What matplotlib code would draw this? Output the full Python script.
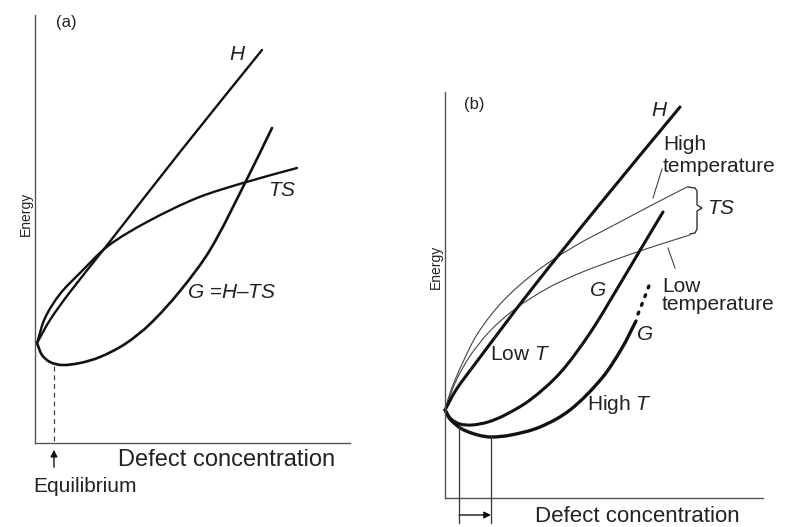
import numpy as np
import matplotlib
matplotlib.use("Agg")
import matplotlib.pyplot as plt
from matplotlib.path import Path
from matplotlib.patches import PathPatch, FancyArrowPatch

plt.rcParams['font.family'] = ['Liberation Sans', 'DejaVu Sans']
plt.rcParams['mathtext.fontset'] = 'custom'
plt.rcParams['mathtext.rm'] = 'Liberation Sans'
plt.rcParams['mathtext.it'] = 'Liberation Sans:italic'

# curve points, in pixel coords (x right, y down)
# panel (a)
a_H_x = [37, 50, 70, 108, 180, 262]
a_H_y = [343, 320, 292, 244, 152, 50]
a_TS_x = [37, 45, 60, 80, 108, 147, 197, 243, 297]
a_TS_y = [343, 318, 294, 273, 246, 222, 198, 183, 168]
a_G_x = [37, 42, 50, 62, 80, 100, 125, 150, 180, 210, 245, 272]
a_G_y = [343, 355, 362, 365, 363, 357, 344, 324, 291, 250, 183, 128]
a_eq_x = 54

# panel (b)
b_H_x = [445, 456, 475, 531, 600, 680]
b_H_y = [410, 390, 364, 290, 204, 107]
b_TS_hi_x = [445, 451, 463, 478, 503, 537, 575, 618, 652, 687]
b_TS_hi_y = [410, 390, 362, 333, 301, 271, 246, 223, 205, 187]
b_TS_lo_x = [445, 456, 470, 490, 515, 548, 580, 620, 655, 690]
b_TS_lo_y = [410, 381, 356, 331, 309, 288, 273, 258, 246, 235]
b_G_lo_x = [445, 451, 460, 472, 488, 505, 530, 560, 590, 620, 642, 663]
b_G_lo_y = [410, 419, 424, 425, 422, 415, 400, 373, 333, 284, 247, 212]
b_G_hi_x = [445, 450, 462, 478, 491, 511, 540, 570, 602, 622, 636]
b_G_hi_y = [410, 419, 429, 435, 437, 435, 427, 410, 378, 348, 321]
b_G_dot_x = [638, 644, 650]
b_G_dot_y = [314, 299, 283]
b_eq_x = [459, 491]


def smooth(ax, xs, ys, **kw):
    # cubic pieces through the read points (chord-length catmull-rom)
    p = np.column_stack([xs, ys]).astype(float)
    d = np.hypot(*np.diff(p, axis=0).T)
    t = np.concatenate([[0], np.cumsum(d)])
    m = np.zeros_like(p)
    m[0] = (p[1] - p[0]) / d[0]
    m[-1] = (p[-1] - p[-2]) / d[-1]
    for i in range(1, len(p) - 1):
        m[i] = (p[i + 1] - p[i - 1]) / (t[i + 1] - t[i - 1])
    verts = [p[0]]
    codes = [Path.MOVETO]
    for i in range(len(p) - 1):
        verts += [p[i] + m[i] * d[i] / 3, p[i + 1] - m[i + 1] * d[i] / 3, p[i + 1]]
        codes += [Path.CURVE4] * 3
    ax.add_patch(PathPatch(Path(verts, codes), fill=False, capstyle='round',
                           joinstyle='round', **kw))


fig = plt.figure(figsize=(7.9, 5.27), dpi=100)
ax = fig.add_axes([0, 0, 1, 1])
ax.set_xlim(0, 790)
ax.set_ylim(527, 0)
ax.axis('off')

axis_col = '#555555'
ink = '#111111'
txt = '#222222'

# ---- panel (a)
ax.plot([35, 35], [15, 443], color=axis_col, lw=1.0)
ax.plot([35, 350], [443, 443], color=axis_col, lw=1.0)
smooth(ax, a_H_x, a_H_y, color=ink, lw=1.7)
smooth(ax, a_TS_x, a_TS_y, color=ink, lw=1.7)
smooth(ax, a_G_x, a_G_y, color=ink, lw=1.9)
ax.plot([a_eq_x, a_eq_x], [366, 443], color='#444444', lw=0.9, ls=(0, (4, 3)))
ax.add_patch(FancyArrowPatch((a_eq_x, 470), (a_eq_x, 447), arrowstyle='-|>',
                             mutation_scale=10, color=ink, lw=1.0))

ax.text(66, 22, '(a)', fontsize=12, ha='center', va='center', color=txt)
ax.text(26, 214, 'Energy', fontsize=10, rotation=90, ha='center', va='center', color=txt)
ax.text(238, 55, '$H$', fontsize=15, ha='center', va='center', color=txt)
ax.text(282, 190, '$TS$', fontsize=15, ha='center', va='center', color=txt)
ax.text(232, 292, '$G$ =$H$–$TS$', fontsize=15, ha='center', va='center', color=txt)
ax.text(118, 460, 'Defect concentration', fontsize=17, ha='left', va='center', color=txt)
ax.text(33, 486, 'Equilibrium', fontsize=15, ha='left', va='center', color=txt)

# ---- panel (b)
ax.plot([445, 445], [92, 498], color=axis_col, lw=1.0)
ax.plot([445, 763], [498, 498], color=axis_col, lw=1.0)
smooth(ax, b_TS_hi_x, b_TS_hi_y, color='#444444', lw=0.8)
smooth(ax, b_TS_lo_x, b_TS_lo_y, color='#444444', lw=0.8)
smooth(ax, b_H_x, b_H_y, color=ink, lw=2.2)
smooth(ax, b_G_lo_x, b_G_lo_y, color=ink, lw=2.2)
smooth(ax, b_G_hi_x, b_G_hi_y, color=ink, lw=2.4)
ax.plot(b_G_dot_x, b_G_dot_y, color=ink, lw=2.4, ls=(0, (0.6, 2.2)), dash_capstyle='round')

for xv, yv in zip(b_eq_x, [425, 437]):
    ax.plot([xv, xv], [yv, 523], color='#333333', lw=0.9)
ax.add_patch(FancyArrowPatch((b_eq_x[0], 515), (b_eq_x[1], 515), arrowstyle='-|>',
                             mutation_scale=10, color=ink, lw=1.0, shrinkA=0, shrinkB=0))

# brace joining the two TS ends
ax.plot([688, 695, 697, 697, 702, 697, 697, 695, 690],
        [187, 188, 191, 205, 208, 211, 229, 233, 234], color='#333333', lw=1.0)
# leader lines
ax.plot([662, 653], [169, 198], color='#444444', lw=0.8)
ax.plot([668, 675], [248, 268], color='#444444', lw=0.8)

ax.text(474, 105, '(b)', fontsize=12, ha='center', va='center', color=txt)
ax.text(436, 267, 'Energy', fontsize=10, rotation=90, ha='center', va='center', color=txt)
ax.text(660, 110, '$H$', fontsize=15, ha='center', va='center', color=txt)
ax.text(663, 145, 'High', fontsize=15, ha='left', va='center', color=txt)
ax.text(663, 166, 'temperature', fontsize=15, ha='left', va='center', color=txt)
ax.text(707, 208, '$TS$', fontsize=15, ha='left', va='center', color=txt)
ax.text(662, 286, 'Low', fontsize=15, ha='left', va='center', color=txt)
ax.text(662, 305, 'temperature', fontsize=15, ha='left', va='center', color=txt)
ax.text(598, 290, '$G$', fontsize=15, ha='center', va='center', color=txt)
ax.text(645, 335, '$G$', fontsize=15, ha='center', va='center', color=txt)
ax.text(490, 355, 'Low $T$', fontsize=15, ha='left', va='center', color=txt)
ax.text(587, 405, 'High $T$', fontsize=15, ha='left', va='center', color=txt)
ax.text(535, 517, 'Defect concentration', fontsize=16, ha='left', va='center', color=txt)

fig.savefig('out.png', dpi=100)
